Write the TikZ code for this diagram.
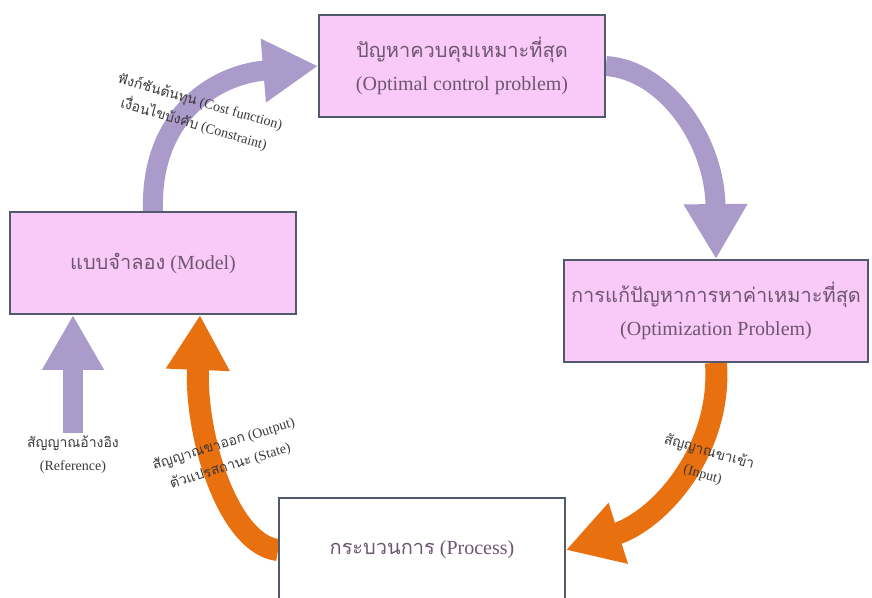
\documentclass[tikz,border=0pt]{standalone}
\usepackage{fontspec}
\setmainfont{Liberation Serif}
\newfontfamily\thaifont[Script=Thai]{Loma}
\usetikzlibrary{arrows.meta,calc,backgrounds}
\definecolor{boxpink}{RGB}{249,202,247}
\definecolor{boxline}{RGB}{80,90,108}
\definecolor{arrowpurple}{RGB}{170,155,202}
\definecolor{arroworange}{RGB}{232,112,14}
\definecolor{boxtext}{RGB}{110,85,112}
\definecolor{labeltext}{RGB}{60,55,60}
\newcommand{\thaitext}[1]{{\thaifont #1}}
\begin{document}
\begin{tikzpicture}[x=1pt,y=-1pt,
  stagebox/.style={draw=boxline,line width=1.8pt,fill=boxpink,minimum width=286pt,minimum height=102pt,align=center,text=boxtext,font=\fontsize{20}{33}\selectfont},
  flowlabel/.style={align=center,text=labeltext,font=\fontsize{14}{23}\selectfont},
  purplearrow/.style={line width=20pt,draw=arrowpurple,-{Triangle[length=55pt,width=60pt]}},
  orangearrow/.style={line width=22pt,draw=arroworange,-{Triangle[length=55pt,width=60pt]}}]
\useasboundingbox (0,0) rectangle (872,597);
% boxes
\node[stagebox] (optctrl) at (462,66) {\thaitext{ปัญหาควบคุมเหมาะที่สุด}\\(Optimal control problem)};
\node[stagebox] (model) at (153,263) {\thaitext{แบบจำลอง} (Model)};
\node[stagebox,minimum width=304pt] (optim) at (716,311) {\thaitext{การแก้ปัญหาการหาค่าเหมาะที่สุด}\\(Optimization Problem)};
\node[stagebox,fill=white,minimum height=104pt] (process) at (422,550) {\thaitext{กระบวนการ} (Process)};
% labels
\node[flowlabel,rotate=-16] (costlabel) at (197,113) {\thaitext{ฟังก์ชันต้นทุน} (Cost function)\\\thaitext{เงื่อนไขบังคับ} (Constraint)};
\node[flowlabel] (reflabel) at (73,455) {\thaitext{สัญญาณอ้างอิง}\\(Reference)};
\node[flowlabel,rotate=17] (outlabel) at (227,455) {\thaitext{สัญญาณขาออก} (Output)\\\thaitext{ตัวแปรสถานะ} (State)};
\node[flowlabel,rotate=-16] (inlabel) at (706,463) {\thaitext{สัญญาณขาเข้า}\\(Input)};
\coordinate (modeltip) at ($(model.south)+(47,0)$);
% arrows
\begin{pgfonlayer}{background}
\draw[purplearrow] (model.north) .. controls (150,120) and (210,75) .. (optctrl.west);
\draw[purplearrow] (optctrl.east) .. controls (665,70) and (715,140) .. (optim.north);
\draw[orangearrow] (optim.south) .. controls (722,450) and (660,520) .. (process.east);
\draw[orangearrow] (process.west) .. controls (230,545) and (195,440) .. (modeltip);
\draw[purplearrow,-{Triangle[length=55pt,width=58pt]}] (reflabel.north) -- (reflabel.north |- model.south);
\end{pgfonlayer}
\end{tikzpicture}
\end{document}
